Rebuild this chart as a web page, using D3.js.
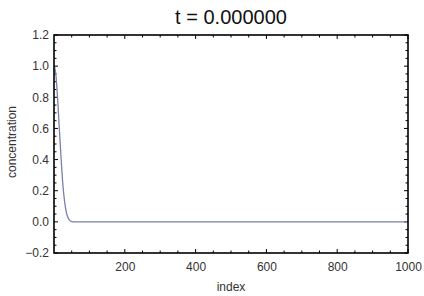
<!DOCTYPE html>
<html>
<head>
<meta charset="utf-8">
<script src="https://cdn.jsdelivr.net/npm/d3@7"></script>
<style>
  body { margin: 0; background: #fff; }
  text { font-family: "Liberation Sans", Arial, sans-serif; }
</style>
</head>
<body>
<div class="graph"></div>
<script>
// Data
var title = "t = 0.000000";
var indexValues = [1, 5, 10, 15, 20, 25, 30, 35, 40, 45, 50, 60, 1000];
var concentration = [1.0, 0.95, 0.80, 0.60, 0.41, 0.24, 0.13, 0.06, 0.025, 0.008, 0.002, 0.0, 0.0];
var xTicks = [200, 400, 600, 800, 1000];
var yTicks = [-0.2, 0.0, 0.2, 0.4, 0.6, 0.8, 1.0, 1.2];

var margin = {top: 35, right: 16, bottom: 43, left: 54},
    width = 424 - margin.left - margin.right,
    height = 296 - margin.top - margin.bottom;

var x = d3.scaleLinear().domain([0, 1000]).range([0, width]);
var y = d3.scaleLinear().domain([-0.2, 1.2]).range([height, 0]);

var svg = d3.select(".graph").append("svg")
    .attr("width", 424)
    .attr("height", 296)
    .style("display", "block");

var g = svg.append("g")
    .attr("transform", "translate(" + margin.left + "," + margin.top + ")");

// Minor/major ticks pointing inward on all four sides
var xMinor = d3.range(50, 1000, 50).filter(function(d) { return d % 200 !== 0; });
var yMinor = d3.range(-0.15, 1.2, 0.05).filter(function(d) {
  return Math.abs(Math.round(d * 5) - d * 5) > 1e-6;
});

function tickLines(sel, vals, len, orient) {
  sel.selectAll(null).data(vals).enter().append("line")
    .attr("x1", function(d) { return orient === "b" || orient === "t" ? x(d) : (orient === "l" ? 0 : width); })
    .attr("x2", function(d) { return orient === "b" || orient === "t" ? x(d) : (orient === "l" ? len : width - len); })
    .attr("y1", function(d) { return orient === "l" || orient === "r" ? y(d) : (orient === "b" ? height : 0); })
    .attr("y2", function(d) { return orient === "l" || orient === "r" ? y(d) : (orient === "b" ? height - len : len); })
    .attr("stroke", "#000")
    .attr("stroke-width", 1);
}
var ticksG = g.append("g");
tickLines(ticksG, xTicks, 4, "b");
tickLines(ticksG, xMinor, 2.5, "b");
tickLines(ticksG, xTicks, 4, "t");
tickLines(ticksG, xMinor, 2.5, "t");
tickLines(ticksG, yTicks, 4, "l");
tickLines(ticksG, yMinor, 2.5, "l");
tickLines(ticksG, yTicks, 4, "r");
tickLines(ticksG, yMinor, 2.5, "r");

// Axes for labels only
var xAxis = g.append("g")
    .attr("transform", "translate(0," + height + ")")
    .call(d3.axisBottom(x).tickValues(xTicks).tickSize(0).tickPadding(9).tickFormat(d3.format("d")));
var yAxis = g.append("g")
    .call(d3.axisLeft(y).tickValues(yTicks).tickSize(0).tickPadding(5)
      .tickFormat(function(d) { return d < 0 ? "\u2212" + d3.format(".1f")(-d) : d3.format(".1f")(d); }));
[xAxis, yAxis].forEach(function(a) {
  a.select(".domain").remove();
  a.selectAll("text").attr("font-size", 12).attr("fill", "#333")
    .style("font-family", "'Liberation Sans', Arial, sans-serif");
});

// Line
var line = d3.line()
    .x(function(d, i) { return x(indexValues[i]); })
    .y(function(d) { return y(d); })
    .curve(d3.curveMonotoneX);
g.append("path")
    .datum(concentration)
    .attr("fill", "none")
    .attr("stroke", "#7a80a6")
    .attr("stroke-width", 1.3)
    .attr("d", line);

// Frame
g.append("rect")
    .attr("width", width).attr("height", height)
    .attr("fill", "none").attr("stroke", "#000").attr("stroke-width", 1.6);

// Titles
svg.append("text")
    .attr("x", margin.left + width / 2).attr("y", 24)
    .attr("text-anchor", "middle").attr("font-size", 20).attr("fill", "#111")
    .text(title);
svg.append("text")
    .attr("x", margin.left + width / 2).attr("y", 291)
    .attr("text-anchor", "middle").attr("font-size", 12).attr("fill", "#333")
    .text("index");
svg.append("text")
    .attr("transform", "translate(16," + (margin.top + height / 2 - 2) + ") rotate(-90)")
    .attr("text-anchor", "middle").attr("font-size", 12).attr("fill", "#333")
    .text("concentration");
</script>
</body>
</html>
